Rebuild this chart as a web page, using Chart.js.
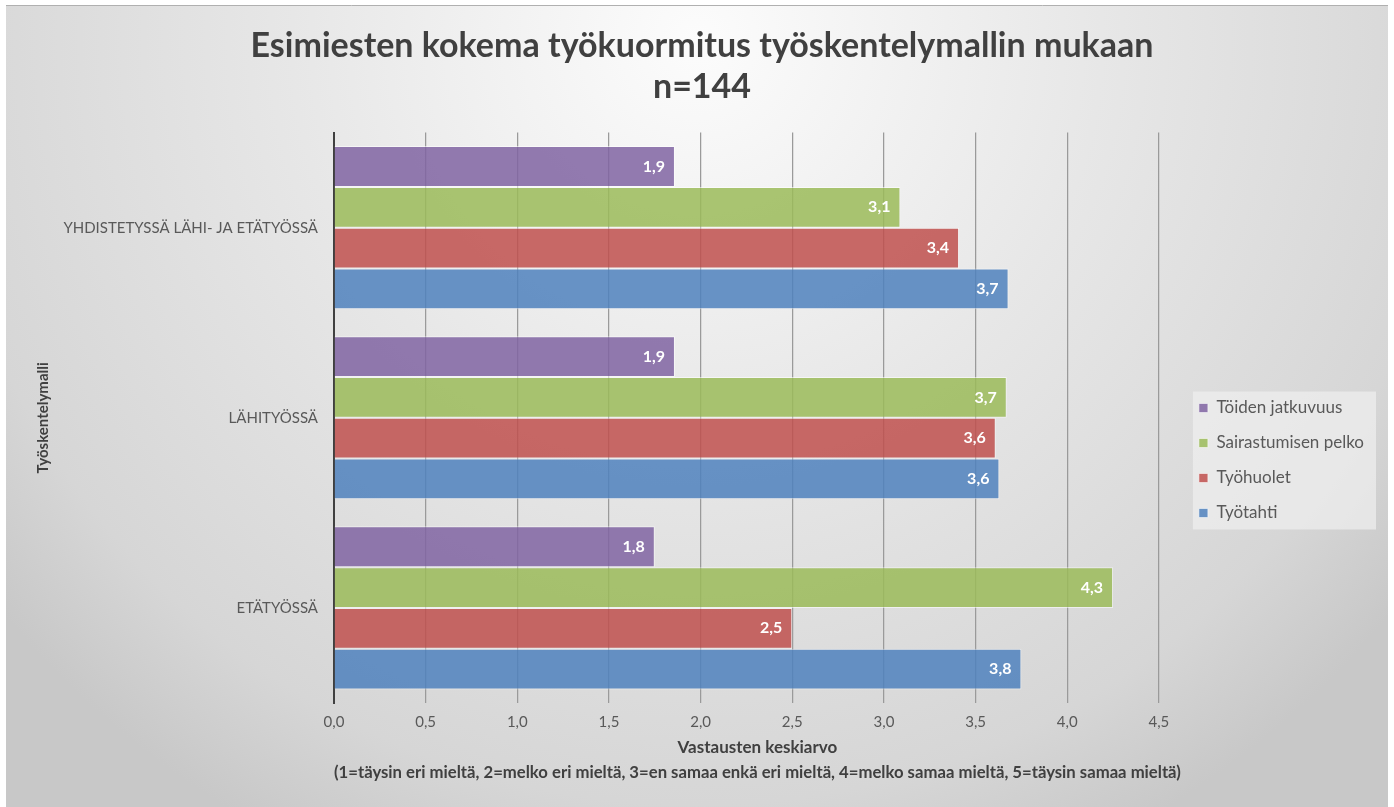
<!DOCTYPE html>
<html>
<head>
<meta charset="utf-8">
<script src="https://cdn.jsdelivr.net/npm/chart.js@4.4.0/dist/chart.umd.min.js"></script>
<style>
    html, body { margin: 0; padding: 0; background: #ffffff; }
</style>
</head>
<body>
<canvas id="myChart" width="1394" height="807"></canvas>
<script>

const kategoriat = ['YHDISTETYSSÄ LÄHI- JA ETÄTYÖSSÄ', 'LÄHITYÖSSÄ', 'ETÄTYÖSSÄ']

const toidenJatkuvuus = [1.86, 1.86, 1.75]
const sairastumisenPelko = [3.09, 3.67, 4.25]
const tyohuolet = [3.41, 3.61, 2.50]
const tyotahti = [3.68, 3.63, 3.75]

const xTikit = ['0,0', '0,5', '1,0', '1,5', '2,0', '2,5', '3,0', '3,5', '4,0', '4,5']

const muotoile = (v) => (Math.round(v * 10) / 10).toFixed(1).replace('.', ',')

// tausta + selitteen laatikko
const tausta = {
    id: 'tausta',
    beforeDraw(chart) {
        const ctx = chart.ctx
        ctx.save()
        ctx.fillStyle = '#ffffff'
        ctx.fillRect(0, 0, chart.width, chart.height)
        const g = ctx.createRadialGradient(697, 40, 0, 697, 40, 900)
        g.addColorStop(0, '#fcfcfc')
        g.addColorStop(0.45, '#e7e7e7')
        g.addColorStop(0.85, '#d6d6d6')
        g.addColorStop(1, '#c8c8c8')
        ctx.fillStyle = g
        ctx.fillRect(6, 5, 1382, 802)
        ctx.strokeStyle = '#b0b0b0'
        ctx.lineWidth = 1
        ctx.beginPath()
        ctx.moveTo(6, 5.5)
        ctx.lineTo(1388, 5.5)
        ctx.stroke()

        const boxes = chart.legend.legendHitBoxes
        if (boxes && boxes.length) {
            const l = Math.min(...boxes.map(b => b.left)) - 6
            const t = Math.min(...boxes.map(b => b.top)) - 8
            const r = Math.max(...boxes.map(b => b.left + b.width)) + 12
            const b2 = Math.max(...boxes.map(b => b.top + b.height)) + 8
            ctx.fillStyle = 'rgba(240,240,240,0.7)'
            ctx.fillRect(l, t, r - l, b2 - t)
        }
        ctx.restore()
    }
}

const arvoTekstit = {
    id: 'arvoTekstit',
    afterDatasetsDraw(chart) {
        const ctx = chart.ctx
        ctx.save()
        ctx.font = 'bold 16px Lato'
        ctx.fillStyle = '#ffffff'
        ctx.textAlign = 'right'
        ctx.textBaseline = 'middle'
        chart.data.datasets.forEach((ds, i) => {
            chart.getDatasetMeta(i).data.forEach((bar, j) => {
                ctx.fillText(muotoile(ds.data[j]), bar.x - 10, bar.y)
            })
        })
        ctx.restore()
    }
}

var ctx = document.getElementById('myChart')
var myChart = new Chart(ctx, {
    type: 'bar',
    data: {
        labels: kategoriat,
        datasets: [{
            label: 'Töiden jatkuvuus',
            data: toidenJatkuvuus,
            backgroundColor: 'rgba(128,100,162,0.85)'
        }, {
            label: 'Sairastumisen pelko',
            data: sairastumisenPelko,
            backgroundColor: 'rgba(155,187,89,0.85)'
        }, {
            label: 'Työhuolet',
            data: tyohuolet,
            backgroundColor: 'rgba(192,80,77,0.85)'
        }, {
            label: 'Työtahti',
            data: tyotahti,
            backgroundColor: 'rgba(79,129,189,0.85)'
        }]
    },
    plugins: [tausta, arvoTekstit],
    options: {
        responsive: false,
        animation: false,
        devicePixelRatio: 1,
        indexAxis: 'y',
        datasets: {
            bar: {
                barPercentage: 1,
                categoryPercentage: 0.858,
                borderColor: 'rgba(255,255,255,0.55)',
                borderWidth: 1
            }
        },
        layout: {
            padding: { left: 30, right: 20, top: 0, bottom: 18 }
        },
        plugins: {
            title: {
                display: true,
                text: ['Esimiesten kokema työkuormitus työskentelymallin mukaan', 'n=144'],
                color: '#404040',
                font: { family: 'Lato', size: 34, weight: 'bold', lineHeight: 1.2 },
                padding: { top: 26, bottom: 25 }
            },
            legend: {
                position: 'right',
                title: {
                    display: true,
                    text: '',
                    font: { size: 12, lineHeight: 1 },
                    padding: { top: 0, bottom: 120 }
                },
                labels: {
                    boxWidth: 9,
                    boxHeight: 9,
                    padding: 18,
                    color: '#595959',
                    font: { family: 'Lato', size: 17 }
                }
            },
            tooltip: { enabled: false }
        },
        scales: {
            x: {
                min: 0,
                max: 4.62,
                grid: { color: '#9a9a9a', lineWidth: 1.25, drawTicks: false },
                border: { display: false },
                ticks: {
                    stepSize: 0.5,
                    includeBounds: false,
                    padding: 10,
                    color: '#595959',
                    font: { family: 'Lato', size: 15 },
                    callback: (v, i) => xTikit[i]
                },
                title: {
                    display: true,
                    text: ['Vastausten keskiarvo', '(1=täysin eri mieltä, 2=melko eri mieltä, 3=en samaa enkä eri mieltä, 4=melko samaa mieltä, 5=täysin samaa mieltä)'],
                    color: '#404040',
                    font: { family: 'Lato', size: 17, weight: 'bold', lineHeight: 1.47 },
                    padding: { top: 4, bottom: 4 }
                },
                afterFit: (scale) => { scale.height = 86 }
            },
            y: {
                grid: { display: false },
                border: { color: '#404040', width: 2 },
                ticks: {
                    padding: 8,
                    color: '#595959',
                    font: { family: 'Lato', size: 15 }
                },
                title: {
                    display: true,
                    text: 'Työskentelymalli',
                    color: '#404040',
                    font: { family: 'Lato', size: 15, weight: 'bold' },
                    padding: { top: 4, bottom: 4 }
                },
                afterFit: (scale) => { scale.width = 304 }
            }
        }
    }
})

</script>
</body>
</html>
